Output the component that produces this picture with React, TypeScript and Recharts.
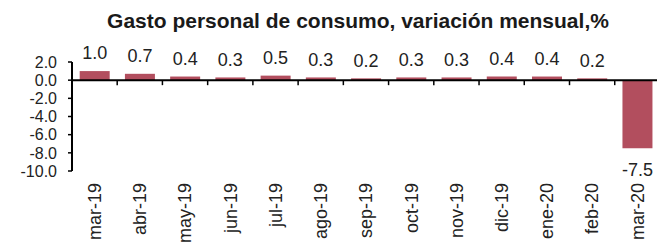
import { BarChart, Bar, XAxis, YAxis, ReferenceLine, LabelList, Rectangle } from 'recharts'

const FONT = '"Liberation Sans", Arial, sans-serif'
const BAR_COLOR = '#b24e5e'
const GAP = 0.17

const months = [
  'mar-19', 'abr-19', 'may-19', 'jun-19', 'jul-19', 'ago-19', 'sep-19',
  'oct-19', 'nov-19', 'dic-19', 'ene-20', 'feb-20', 'mar-20',
]
const change = [1.0, 0.7, 0.4, 0.3, 0.5, 0.3, 0.2, 0.3, 0.3, 0.4, 0.4, 0.2, -7.5]
const yTicks = [2, 0, -2, -4, -6, -8, -10]

const data = months.map((m, i) => ({ month: m, value: change[i] }))

const XTick = ({ x, y, payload }: any) => (
  <text
    x={x}
    y={y}
    transform={`rotate(-90 ${x} ${y})`}
    textAnchor="end"
    dy="0.35em"
    fontSize={18}
    fill="#222"
    fontFamily={FONT}
  >
    {payload.value}
  </text>
)

// bar plus the category divider tick on the zero line
const BarWithTick = (props: any) => {
  const { x, y, width, height, value, index } = props
  const top = Math.min(y, y + height)
  const bottom = Math.max(y, y + height)
  const zero = value >= 0 ? bottom : top
  const band = width / (1 - 2 * GAP)
  const start = x - GAP * band
  return (
    <g>
      <Rectangle x={x} y={top} width={width} height={bottom - top} fill={BAR_COLOR} />
      {index > 0 && (
        <line x1={start} x2={start} y1={zero} y2={zero + 5} stroke="#000" strokeWidth={1.5} />
      )}
    </g>
  )
}

const ValueLabel = ({ x, y, width, height, value }: any) => {
  const top = Math.min(y, y + height)
  const bottom = Math.max(y, y + height)
  const ty = value >= 0 ? top - 18 : bottom + 21
  return (
    <text
      x={x + width / 2}
      y={ty}
      dy="0.35em"
      textAnchor="middle"
      fontSize={18}
      fill="#222"
      fontFamily={FONT}
    >
      {Number(value).toFixed(1)}
    </text>
  )
}

export default function App() {
  return (
    <div
      style={{
        position: 'fixed',
        left: 0,
        top: 0,
        width: 657,
        height: 243,
        overflow: 'hidden',
        background: '#fff',
      }}
    >
      <div
        style={{
          position: 'absolute',
          left: 0,
          width: 716,
          top: 11,
          textAlign: 'center',
          fontFamily: FONT,
          fontWeight: 'bold',
          fontSize: 21,
          lineHeight: '20px',
          color: '#1a1a1a',
          whiteSpace: 'nowrap',
        }}
      >
        Gasto personal de consumo, variación mensual,%
      </div>
      <BarChart
        width={665}
        height={243}
        data={data}
        margin={{ top: 62, right: 5, bottom: 0, left: 0 }}
        barCategoryGap={`${GAP * 100}%`}
        style={{ position: 'absolute', left: 0, top: 0 }}
      >
        <XAxis
          dataKey="month"
          interval={0}
          height={72}
          axisLine={false}
          tickLine={false}
          tickSize={0}
          tickMargin={12}
          tick={<XTick />}
        />
        <YAxis
          width={72}
          domain={[-10, 2]}
          ticks={yTicks}
          interval={0}
          tickFormatter={(v: number) => v.toFixed(1)}
          tick={{ fontSize: 16, fill: '#222', fontFamily: FONT }}
          axisLine={{ stroke: '#000', strokeWidth: 2 }}
          tickLine={{ stroke: '#000', strokeWidth: 1.5 }}
          tickSize={4}
          tickMargin={11}
        />
        <Bar dataKey="value" fill={BAR_COLOR} shape={<BarWithTick />} isAnimationActive={false}>
          <LabelList dataKey="value" content={<ValueLabel />} />
        </Bar>
        <ReferenceLine y={0} stroke="#000" strokeWidth={2} />
      </BarChart>
    </div>
  )
}
